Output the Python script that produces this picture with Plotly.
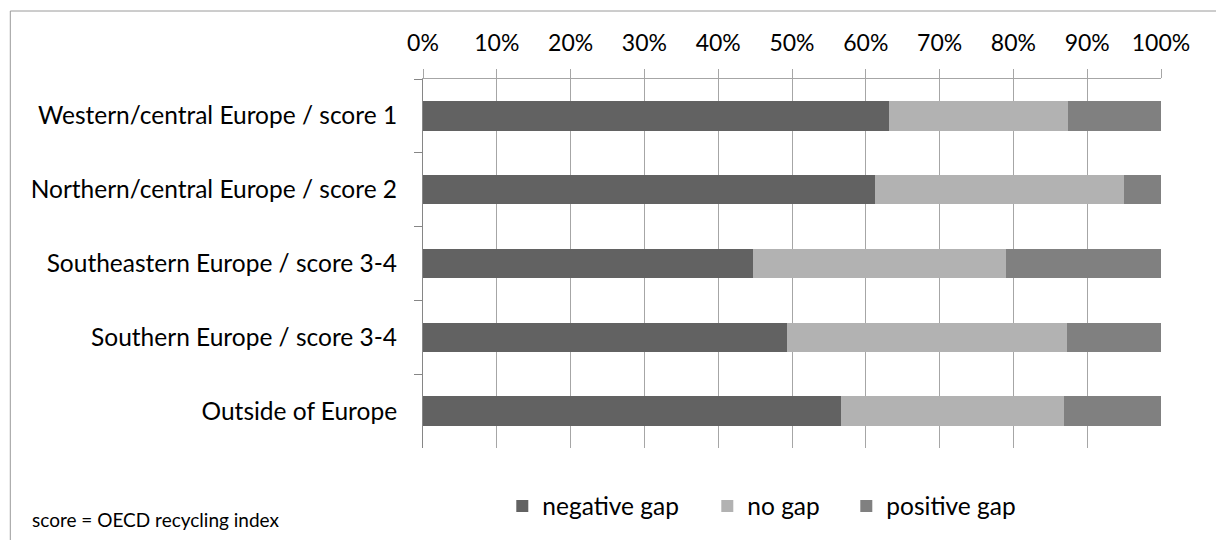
import plotly.graph_objects as go

categories = [
    "Western/central Europe / score 1",
    "Northern/central Europe / score 2",
    "Southeastern Europe / score 3-4",
    "Southern Europe / score 3-4",
    "Outside of Europe",
]
negative_gap = [63.2, 61.2, 44.7, 49.3, 56.6]
no_gap = [24.2, 33.8, 34.3, 37.9, 30.3]
positive_gap = [12.6, 5.0, 21.0, 12.8, 13.1]
series_names = ["negative gap", "no gap", "positive gap"]
series_colors = ["#626262", "#b2b2b2", "#808080"]
note_text = "score = OECD recycling index"

FONT = "Lato"
GRID = "#a6a6a6"

L, R, T, B = 422.7, 1160.7, 79, 448
W, H = 1216, 540


def px2paper_x(px):
    return (px - L) / (R - L)


def px2paper_y(py):
    return (B - py) / (B - T)


legend_ids = ["legend", "legend2", "legend3"]
legend_text_starts = [543, 748, 887]

fig = go.Figure()
for name, vals, col, lid in zip(series_names, [negative_gap, no_gap, positive_gap],
                                series_colors, legend_ids):
    fig.add_trace(go.Bar(
        y=categories, x=vals, name=name, orientation="h",
        marker=dict(color=col, line=dict(width=0)),
        width=0.4, legend=lid,
    ))

legend_layout = {}
for lid, ts in zip(legend_ids, legend_text_starts):
    legend_layout[lid] = dict(
        orientation="h", x=px2paper_x(ts - 41), xanchor="left",
        y=px2paper_y(506), yanchor="middle",
        font=dict(family=FONT, size=24.5, color="#000000"),
        bgcolor="rgba(0,0,0,0)", borderwidth=0,
    )

fig.update_layout(
    width=W, height=H,
    barmode="stack",
    margin=dict(l=L, r=W - R, t=T, b=H - B, autoexpand=False),
    paper_bgcolor="white", plot_bgcolor="white",
    font=dict(family=FONT, size=24, color="#000000"),
    showlegend=True,
    xaxis=dict(
        side="top", range=[0, 100], dtick=10, tick0=0,
        ticksuffix="%", showgrid=True, gridcolor=GRID, gridwidth=1,
        showline=True, linecolor=GRID, linewidth=1,
        ticks="outside", ticklen=9, tickcolor=GRID, tickwidth=1,
        zeroline=False, ticklabelstandoff=9,
        tickfont=dict(family=FONT, size=23, color="#000000"),
        fixedrange=True,
    ),
    yaxis=dict(
        categoryorder="array", categoryarray=categories,
        autorange="reversed",
        showgrid=False, showline=True, linecolor="#868686", linewidth=1,
        ticks="outside", ticklen=8, tickcolor="#868686", tickwidth=1,
        tickson="boundaries", ticklabelstandoff=20,
        tickfont=dict(family=FONT, size=24.5, color="#000000"),
        fixedrange=True,
    ),
    shapes=[dict(
        type="rect", xref="paper", yref="paper",
        x0=px2paper_x(10), x1=px2paper_x(1300),
        y0=px2paper_y(600), y1=px2paper_y(11),
        line=dict(color="#9a9a9a", width=1), fillcolor="rgba(0,0,0,0)",
        layer="below",
    )],
    annotations=[dict(
        text=note_text, xref="paper", yref="paper",
        x=px2paper_x(30), y=px2paper_y(519), xanchor="left", yanchor="middle",
        showarrow=False, font=dict(family=FONT, size=19, color="#000000"),
    )],
    **legend_layout,
)

fig.write_html("out.html")
